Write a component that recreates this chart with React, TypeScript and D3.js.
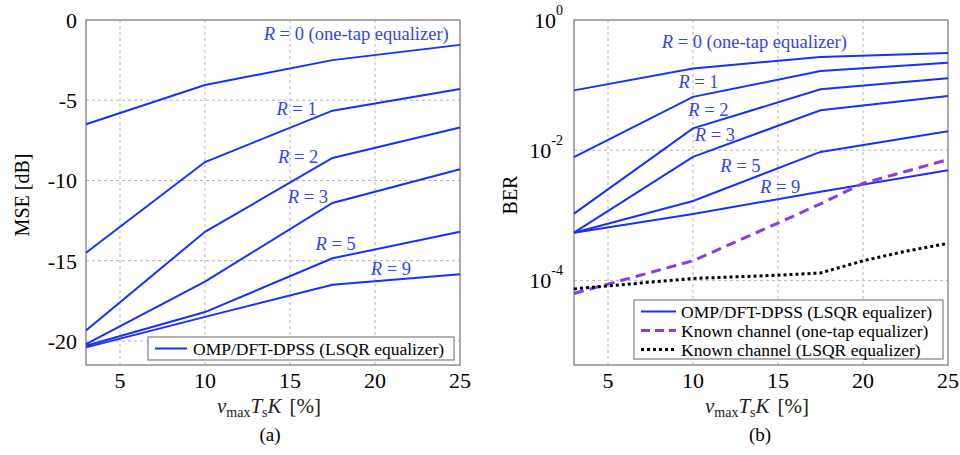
import React, { useEffect, useRef } from "react";
import * as d3 from "d3";

// nu_max * Ts * K [%] sample points
const nu = [3, 10, 17.5, 25];
const nuKnown = [3, 10, 15, 17.5, 20, 22.5, 25];
const xTicks = [5, 10, 15, 20, 25];
const mseTicks = [0, -5, -10, -15, -20];
const berTickExps = [0, -2, -4];
const rOrders = [0, 1, 2, 3, 5, 9];

// (a) MSE [dB] per R
const mseR0 = [-6.5, -4.05, -2.5, -1.55];
const mseR1 = [-14.5, -8.85, -5.65, -4.3];
const mseR2 = [-19.35, -13.2, -8.6, -6.7];
const mseR3 = [-20.2, -16.3, -11.4, -9.3];
const mseR5 = [-20.3, -18.2, -14.85, -13.2];
const mseR9 = [-20.4, -18.5, -16.5, -15.85];

// (b) BER per R
const berR0 = [0.083, 0.18, 0.27, 0.31];
const berR1 = [0.0078, 0.066, 0.164, 0.22];
const berR2 = [0.00106, 0.0216, 0.086, 0.127];
const berR3 = [0.00054, 0.0079, 0.041, 0.068];
const berR5 = [0.00054, 0.00166, 0.0094, 0.0196];
const berR9 = [0.00054, 0.00105, 0.0023, 0.0049];
const berKnownOneTap = [6.3e-5, 2.0e-4, 7.6e-4, 1.5e-3, 3.1e-3, 4.7e-3, 7.2e-3];
const berKnownLsqr = [7.4e-5, 1.07e-4, 1.2e-4, 1.3e-4, 2.0e-4, 2.8e-4, 3.7e-4];

// where the R annotations sit, in data units
const mseLabelAt = [[13.45, -1.25], [14.2, -5.92], [14.3, -8.9], [14.87, -11.4], [16.5, -14.32], [19.75, -15.88]];
const berLabelAt = [[8.16, -0.43], [9.14, -1.05], [9.72, -1.48], [10.1, -1.86], [11.6, -2.34], [13.94, -2.65]];

const legendA = ["OMP/DFT-DPSS (LSQR equalizer)"];
const legendB = ["OMP/DFT-DPSS (LSQR equalizer)", "Known channel (one-tap equalizer)", "Known channel (LSQR equalizer)"];

const BLUE = "#1530ff";
const LABEL_BLUE = "#3544ea";
const PURPLE = "#8b3ae4";
const GRID = "#b4b4b4";
const FRAME = "#808080";

const App = () => {
  const svgRef = useRef<SVGSVGElement>(null);

  useEffect(() => {
    const svg = d3.select(svgRef.current);
    svg.selectAll("*").remove();

    const mse = [mseR0, mseR1, mseR2, mseR3, mseR5, mseR9];
    const ber = [berR0, berR1, berR2, berR3, berR5, berR9];

    const xa = d3.scaleLinear().domain([3, 25]).range([86, 460]);
    const ya = d3.scaleLinear().domain([-21.5, 0]).range([365, 20]);
    const xb = d3.scaleLinear().domain([3, 25]).range([574, 948]);
    const yb = d3.scaleLog().domain([Math.pow(10, -5.3), 1]).range([365, 20]);

    // grid, frame and x axis for one panel
    const frame = (x, y, yGrid, cls) => {
      const g = svg.append("g");
      const [x0, x1] = x.range();
      const [y0, y1] = y.range();
      g.selectAll(".gx" + cls)
        .data(xTicks.filter(v => v < 25))
        .join("line")
        .attr("x1", d => x(d)).attr("x2", d => x(d))
        .attr("y1", y0).attr("y2", y1)
        .attr("stroke", GRID).attr("stroke-dasharray", "3,3");
      g.selectAll(".gy" + cls)
        .data(yGrid)
        .join("line")
        .attr("x1", x0).attr("x2", x1)
        .attr("y1", d => y(d)).attr("y2", d => y(d))
        .attr("stroke", GRID).attr("stroke-dasharray", "3,3");
      g.append("rect")
        .attr("x", x0).attr("y", y1)
        .attr("width", x1 - x0).attr("height", y0 - y1)
        .attr("fill", "none").attr("stroke", FRAME).attr("stroke-width", 1.3);
      g.selectAll(".tx" + cls)
        .data(xTicks)
        .join("text")
        .attr("x", d => x(d)).attr("y", 388)
        .attr("text-anchor", "middle")
        .attr("font-size", 22)
        .text(d => d);

      // nu_max Ts K [%]
      const xl = g.append("text")
        .attr("x", (x0 + x1) / 2 - 4).attr("y", 413)
        .attr("text-anchor", "middle").attr("font-size", 21).attr("fill", "#222");
      xl.append("tspan").attr("font-style", "italic").text("ν");
      xl.append("tspan").attr("font-size", 14).attr("dy", 4).text("max");
      xl.append("tspan").attr("font-style", "italic").attr("dy", -4).text("T");
      xl.append("tspan").attr("font-size", 14).attr("dy", 4).text("s");
      xl.append("tspan").attr("font-style", "italic").attr("dy", -4).text("K");
      xl.append("tspan").attr("dx", 8).text("[%]");
      return g;
    };

    const line = (x, y) => d3.line<number>().x((d, i) => x(nu[i])).y(d => y(d));
    const lineKnown = (x, y) => d3.line<number>().x((d, i) => x(nuKnown[i])).y(d => y(d));

    const rLabel = (g, px, py, r) => {
      const t = g.append("text")
        .attr("x", px).attr("y", py)
        .attr("font-size", 18.5).attr("fill", LABEL_BLUE);
      t.append("tspan").attr("font-style", "italic").text("R");
      t.append("tspan").text(r === 0 ? " = 0 (one-tap equalizer)" : " = " + r);
    };

    // ---------- (a) MSE ----------
    const ga = frame(xa, ya, mseTicks.filter(v => v < 0), "a");
    ga.selectAll(".ty")
      .data(mseTicks)
      .join("text")
      .attr("x", 77).attr("y", d => ya(d) + 8)
      .attr("text-anchor", "end").attr("font-size", 22)
      .text(d => d);
    ga.append("text")
      .attr("transform", "translate(29,195) rotate(-90)")
      .attr("text-anchor", "middle").attr("font-size", 20)
      .text("MSE [dB]");
    ga.selectAll(".sa")
      .data(mse)
      .join("path")
      .attr("d", line(xa, ya))
      .attr("fill", "none").attr("stroke", BLUE).attr("stroke-width", 2);
    rOrders.forEach((r, i) => rLabel(ga, xa(mseLabelAt[i][0]), ya(mseLabelAt[i][1]), r));

    // legend (a)
    ga.append("rect")
      .attr("x", 148).attr("y", 337).attr("width", 306).attr("height", 23)
      .attr("fill", "#fff").attr("stroke", FRAME).attr("stroke-width", 1.2);
    ga.append("line")
      .attr("x1", 155).attr("x2", 187).attr("y1", 348.5).attr("y2", 348.5)
      .attr("stroke", BLUE).attr("stroke-width", 2);
    ga.append("text")
      .attr("x", 193).attr("y", 354.5).attr("font-size", 17.5)
      .text(legendA[0]);

    svg.append("text")
      .attr("x", 270).attr("y", 441).attr("text-anchor", "middle").attr("font-size", 19)
      .text("(a)");

    // ---------- (b) BER ----------
    const gb = frame(xb, yb, berTickExps.filter(e => e < 0).map(e => Math.pow(10, e)), "b");
    berTickExps.forEach(e => {
      const t = gb.append("text")
        .attr("x", 563).attr("y", yb(Math.pow(10, e)) + 8)
        .attr("text-anchor", "end").attr("font-size", 22);
      t.append("tspan").text("10");
      t.append("tspan").attr("font-size", 14).attr("dy", -13).text(e === 0 ? "0" : "-" + Math.abs(e));
    });
    gb.append("text")
      .attr("transform", "translate(517,195) rotate(-90)")
      .attr("text-anchor", "middle").attr("font-size", 20)
      .text("BER");
    gb.selectAll(".sb")
      .data(ber)
      .join("path")
      .attr("d", line(xb, yb))
      .attr("fill", "none").attr("stroke", BLUE).attr("stroke-width", 2);
    gb.append("path")
      .attr("d", lineKnown(xb, yb)(berKnownOneTap))
      .attr("fill", "none").attr("stroke", PURPLE).attr("stroke-width", 3)
      .attr("stroke-dasharray", "10,6");
    gb.append("path")
      .attr("d", lineKnown(xb, yb)(berKnownLsqr))
      .attr("fill", "none").attr("stroke", "#000").attr("stroke-width", 3)
      .attr("stroke-dasharray", "3,3");
    rOrders.forEach((r, i) => rLabel(gb, xb(berLabelAt[i][0]), yb(Math.pow(10, berLabelAt[i][1])), r));

    // legend (b)
    gb.append("rect")
      .attr("x", 634).attr("y", 300).attr("width", 309).attr("height", 59)
      .attr("fill", "#fff").attr("stroke", FRAME).attr("stroke-width", 1.2);
    const legStyles = [
      { stroke: BLUE, w: 2, dash: null },
      { stroke: PURPLE, w: 3, dash: "9,5" },
      { stroke: "#000", w: 3, dash: "3,3" },
    ];
    legendB.forEach((name, i) => {
      const cy = 311.5 + i * 19;
      const s = legStyles[i];
      gb.append("line")
        .attr("x1", 641).attr("x2", 676).attr("y1", cy).attr("y2", cy)
        .attr("stroke", s.stroke).attr("stroke-width", s.w)
        .attr("stroke-dasharray", s.dash);
      gb.append("text")
        .attr("x", 681).attr("y", cy + 6).attr("font-size", 17.5)
        .text(name);
    });

    svg.append("text")
      .attr("x", 760).attr("y", 441).attr("text-anchor", "middle").attr("font-size", 19)
      .text("(b)");
  }, []);

  return (
    <svg
      ref={svgRef}
      width={960}
      height={455}
      fontFamily="'Liberation Serif', 'Times New Roman', serif"
      style={{ position: "absolute", left: 0, top: 0, background: "#fff" }}
    />
  );
};

export default App;
